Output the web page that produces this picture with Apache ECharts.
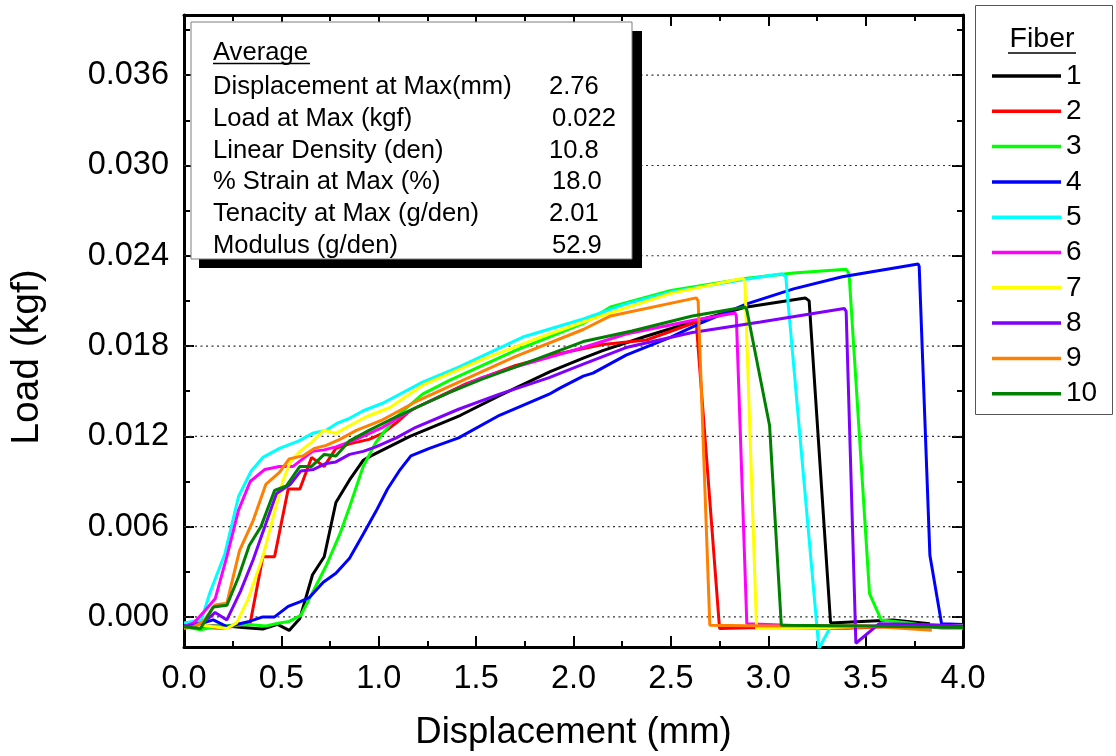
<!DOCTYPE html>
<html>
<head>
<meta charset="utf-8">
<title>Fiber load vs displacement</title>
<script src="https://cdn.jsdelivr.net/npm/echarts@6/dist/echarts.min.js"></script>
<style>
  html, body { margin: 0; padding: 0; background: #ffffff; }
  #chart { width: 1116px; height: 756px; }
</style>
</head>
<body>
<div id="chart"></div>
<script>
// ---- data: [displacement (mm), load (kgf)] for each fiber ----
const fiber1 = [[0,-0.0006],[0.10,-0.0006],[0.22,-0.0006],[0.30,-0.0007],[0.405,-0.0008],[0.48,-0.0005],[0.54,-0.0009],[0.595,-0.0001],[0.66,0.0028],[0.72,0.0040],[0.78,0.0076],[0.85,0.0091],[0.92,0.0104],[0.96,0.0107],[1.16,0.0120],[1.42,0.0134],[1.62,0.0147],[1.88,0.0163],[2.05,0.0172],[2.15,0.0177],[2.36,0.0186],[2.61,0.0196],[2.89,0.0206],[3.19,0.0212],[3.21,0.0210],[3.32,-0.0004],[3.64,-0.0002],[3.83,-0.00045]];
const fiber2 = [[0,-0.00065],[0.10,-0.0007],[0.20,-0.00075],[0.34,-0.0004],[0.405,0.0040],[0.465,0.0040],[0.535,0.0085],[0.595,0.0085],[0.655,0.0106],[0.72,0.0100],[0.78,0.0112],[0.85,0.0115],[0.95,0.0118],[1.02,0.0122],[1.09,0.0129],[1.16,0.0137],[1.19,0.0139],[1.45,0.0155],[1.70,0.0167],[1.93,0.0175],[2.15,0.0181],[2.375,0.0184],[2.61,0.0195],[2.63,0.0196],[2.75,-0.00077],[2.96,-0.0007],[3.40,-0.00075],[3.70,-0.0006],[4.0,-0.0006]];
const fiber3 = [[0,-0.00065],[0.085,-0.00085],[0.17,-0.0006],[0.33,-0.0005],[0.42,-0.0006],[0.49,-0.0004],[0.54,-0.0003],[0.60,0.0001],[0.73,0.0034],[0.80,0.0055],[0.85,0.0073],[0.92,0.0100],[0.985,0.0116],[1.09,0.0133],[1.225,0.0148],[1.36,0.0157],[1.53,0.0167],[1.70,0.0177],[1.875,0.0186],[2.05,0.0195],[2.19,0.0206],[2.50,0.0217],[2.89,0.0225],[3.13,0.02285],[3.40,0.0231],[3.415,0.0228],[3.52,0.00155],[3.58,-0.0002],[3.72,-0.0004],[3.89,-0.00075],[4.0,-0.00075]];
const fiber4 = [[0,-0.0004],[0.10,-0.0004],[0.15,-0.0002],[0.22,-0.00065],[0.335,-0.0003],[0.405,0.0],[0.465,0.0],[0.535,0.0007],[0.595,0.0010],[0.645,0.0013],[0.715,0.0023],[0.78,0.0029],[0.85,0.0039],[0.92,0.0055],[0.985,0.0070],[1.045,0.0085],[1.105,0.0097],[1.165,0.0107],[1.26,0.0112],[1.41,0.0119],[1.62,0.0134],[1.875,0.0148],[1.93,0.0152],[2.05,0.0160],[2.10,0.0162],[2.27,0.0174],[2.50,0.0186],[2.65,0.0195],[2.89,0.0208],[3.13,0.0218],[3.38,0.0226],[3.77,0.02345],[3.775,0.0233],[3.83,0.0041],[3.89,-0.00045],[4.0,-0.0005]];
const fiber5 = [[0,-0.0004],[0.09,-0.0002],[0.13,0.0015],[0.21,0.0042],[0.28,0.0080],[0.345,0.0097],[0.405,0.0106],[0.49,0.0112],[0.59,0.0117],[0.66,0.0122],[0.73,0.0124],[0.79,0.0129],[0.85,0.0132],[0.92,0.0137],[1.02,0.0142],[1.225,0.0156],[1.41,0.0166],[1.74,0.0186],[2.05,0.0198],[2.27,0.0208],[2.50,0.0216],[2.87,0.0224],[3.07,0.0228],[3.09,0.0226],[3.25,-0.00066],[3.26,-0.0021],[3.32,-0.00066],[3.60,-0.0006],[4.0,-0.0006]];
const fiber6 = [[0,-0.00065],[0.05,-0.0004],[0.10,0.0003],[0.16,0.0012],[0.22,0.0040],[0.28,0.0071],[0.34,0.0090],[0.415,0.0098],[0.49,0.0100],[0.56,0.0100],[0.61,0.0105],[0.66,0.0110],[0.72,0.0111],[0.78,0.0113],[0.885,0.0118],[1.02,0.0126],[1.19,0.0139],[1.36,0.0149],[1.53,0.0159],[1.70,0.0166],[2.05,0.0179],[2.27,0.0188],[2.61,0.0197],[2.83,0.0202],[2.836,0.0200],[2.89,-0.00045],[3.20,-0.0006],[3.60,-0.0006],[4.0,-0.0007]];
const fiber7 = [[0,-0.00065],[0.10,-0.00055],[0.15,-0.00065],[0.22,-0.00077],[0.27,-0.0004],[0.33,0.0012],[0.405,0.0040],[0.465,0.0070],[0.51,0.0091],[0.545,0.0103],[0.595,0.0110],[0.655,0.0116],[0.715,0.0124],[0.78,0.0122],[0.85,0.0127],[0.935,0.0133],[1.055,0.0139],[1.225,0.0154],[1.53,0.0171],[1.79,0.0184],[2.05,0.0196],[2.19,0.0202],[2.50,0.0215],[2.87,0.0225],[2.88,0.0223],[2.94,-0.00077],[3.30,-0.0007],[3.70,-0.0006],[4.0,-0.0006]];
const fiber8 = [[0,-0.00065],[0.10,-0.0004],[0.16,0.0003],[0.22,-0.0002],[0.29,0.0017],[0.355,0.0038],[0.415,0.0060],[0.475,0.0082],[0.545,0.0088],[0.60,0.0097],[0.665,0.0098],[0.73,0.0102],[0.78,0.0103],[0.85,0.0108],[0.92,0.0110],[0.985,0.0113],[1.09,0.0119],[1.19,0.0126],[1.41,0.0138],[1.62,0.0148],[1.875,0.0159],[2.05,0.0168],[2.27,0.0179],[2.61,0.0189],[2.96,0.0196],[3.39,0.0205],[3.40,0.0203],[3.45,-0.00175],[3.57,-0.00045],[3.80,-0.0005],[4.0,-0.0006]];
const fiber9 = [[0,-0.00077],[0.05,-0.00066],[0.10,-0.0003],[0.16,0.0008],[0.22,0.0009],[0.285,0.0044],[0.355,0.0064],[0.42,0.0088],[0.49,0.0096],[0.54,0.0105],[0.61,0.0107],[0.67,0.0112],[0.73,0.0114],[0.80,0.0118],[0.885,0.0124],[1.02,0.0131],[1.19,0.0143],[1.36,0.0153],[1.70,0.0173],[2.05,0.0191],[2.19,0.0200],[2.63,0.0212],[2.64,0.0210],[2.70,-0.00055],[3.0,-0.0006],[3.5,-0.0006],[3.84,-0.00088]];
const fiber10 = [[0,-0.00065],[0.085,-0.00077],[0.15,0.00066],[0.22,0.00077],[0.28,0.00265],[0.335,0.00475],[0.395,0.0060],[0.465,0.0084],[0.525,0.0087],[0.595,0.0100],[0.655,0.0100],[0.72,0.0108],[0.78,0.0107],[0.85,0.0117],[0.95,0.0124],[1.09,0.0133],[1.19,0.0139],[1.36,0.0149],[1.53,0.0158],[1.70,0.0166],[2.05,0.0183],[2.30,0.0190],[2.61,0.0200],[2.88,0.0206],[2.89,0.0204],[3.007,0.0127],[3.067,-0.00055],[3.50,-0.0006],[4.0,-0.0007]];

const fiberNames = ['1', '2', '3', '4', '5', '6', '7', '8', '9', '10'];
const fiberData = [fiber1, fiber2, fiber3, fiber4, fiber5, fiber6, fiber7, fiber8, fiber9, fiber10];

// axis ticks
const yMajorTicks = [0, 0.006, 0.012, 0.018, 0.024, 0.030, 0.036];
const yMinorTicks = [0.003, 0.009, 0.015, 0.021, 0.027, 0.033, 0.039];

// summary box
const summaryTitle = 'Average';
const summaryLabels = ['Displacement at Max(mm)', 'Load at Max (kgf)', 'Linear Density (den)', '% Strain at Max (%)', 'Tenacity at Max (g/den)', 'Modulus (g/den)'];
const summaryValues = ['2.76', '0.022', '10.8', '18.0', '2.01', '52.9'];

// ---- styling ----
const FONT = '"Liberation Sans", Arial, Helvetica, sans-serif';
const fiberColors = ['#000000', '#ff0000', '#00ff00', '#0000ff', '#00ffff', '#ff00ff', '#ffff00', '#8000ff', '#ff8000', '#008000'];
const valueX = [549, 552, 549, 552, 549, 552];
const X_MIN = 0, X_MAX = 4;

const chart = echarts.init(document.getElementById('chart'), null, { renderer: 'canvas' });

const yBase = {
  type: 'value', min: -0.002, max: 0.040, gridIndex: 0,
  splitLine: { show: false },
  axisLine: { onZero: false }
};
const frameLine = { show: true, onZero: false, lineStyle: { color: '#000', width: 3 } };

const yAxes = [
  Object.assign({}, yBase, {
    position: 'left',
    axisLine: frameLine,
    axisTick: { show: true, inside: true, length: 10, lineStyle: { color: '#000', width: 2 }, customValues: yMajorTicks },
    axisLabel: { show: true, customValues: yMajorTicks, formatter: v => v.toFixed(3), fontSize: 32.5, color: '#000', fontFamily: FONT, margin: 15 },
    name: 'Load (kgf)', nameLocation: 'middle', nameGap: 137,
    // right padding nudges the rotated title a little below the axis middle
    nameTextStyle: { fontSize: 39, color: '#000', fontFamily: FONT, padding: [0, 52, 0, 0] }
  }),
  Object.assign({}, yBase, {
    position: 'left',
    axisLine: { show: false, onZero: false },
    axisTick: { show: true, inside: true, length: 6, lineStyle: { color: '#000', width: 2 }, customValues: yMinorTicks },
    axisLabel: { show: false }
  }),
  Object.assign({}, yBase, {
    position: 'right',
    axisLine: frameLine,
    axisTick: { show: true, inside: true, length: 11, lineStyle: { color: '#000', width: 2 }, customValues: yMajorTicks },
    axisLabel: { show: false }
  }),
  Object.assign({}, yBase, {
    position: 'right',
    axisLine: { show: false, onZero: false },
    axisTick: { show: true, inside: true, length: 6, lineStyle: { color: '#000', width: 2 }, customValues: yMinorTicks },
    axisLabel: { show: false }
  })
];

const xBase = {
  type: 'value', min: X_MIN, max: X_MAX, interval: 0.5, gridIndex: 0,
  splitLine: { show: false },
  axisLine: frameLine,
  axisTick: { show: true, inside: true, length: 11, lineStyle: { color: '#000', width: 2 } },
  minorTick: { show: true, splitNumber: 2, length: 6, lineStyle: { color: '#000', width: 2 } }
};
const xAxes = [
  Object.assign({}, xBase, {
    position: 'bottom',
    axisLabel: { show: true, formatter: v => v.toFixed(1), fontSize: 32.5, color: '#000', fontFamily: FONT, margin: 16 },
    name: 'Displacement (mm)', nameLocation: 'middle', nameGap: 67,
    nameTextStyle: { fontSize: 36.5, color: '#000', fontFamily: FONT }
  }),
  Object.assign({}, xBase, {
    position: 'top',
    axisLabel: { show: false }
  })
];

// dotted horizontal grid lines at the major load ticks
const gridSeries = yMajorTicks.map(v => ({
  name: 'grid ' + v, type: 'line', data: [[X_MIN, v], [X_MAX, v]],
  xAxisIndex: 0, yAxisIndex: 0, z: 1, silent: true, animation: false,
  showSymbol: false, symbol: 'none',
  lineStyle: { color: '#333', width: 1.2, type: [2, 3.5] },
  emphasis: { disabled: true }, tooltip: { show: false }
}));

const fiberSeries = fiberData.map((d, i) => ({
  name: fiberNames[i], type: 'line', data: d,
  xAxisIndex: 0, yAxisIndex: 0,
  showSymbol: false, symbol: 'none', animation: false, z: 3 + i,
  lineStyle: { color: fiberColors[i], width: 3 },
  itemStyle: { color: fiberColors[i] },
  emphasis: { disabled: true }
}));

// summary box graphics
const SUM_FONT = '25.6px ' + FONT;
const summaryRows = [87, 118.5, 150.5, 182, 214, 245.5];
const summaryGraphics = [
  { type: 'rect', z: 100, shape: { x: 199, y: 31, width: 443, height: 237 }, style: { fill: '#000' } },
  { type: 'rect', z: 101, shape: { x: 191, y: 22, width: 441, height: 237 }, style: { fill: '#fff', stroke: '#7f7f7f', lineWidth: 1 } },
  { type: 'text', z: 102, style: { text: summaryTitle, x: 213, y: 53, fill: '#000', font: SUM_FONT, verticalAlign: 'middle' } },
  { type: 'line', z: 102, shape: { x1: 213, y1: 63.5, x2: 310, y2: 63.5 }, style: { stroke: '#000', lineWidth: 1.5 } }
];
summaryLabels.forEach((t, i) => {
  summaryGraphics.push({ type: 'text', z: 102, style: { text: t, x: 213, y: summaryRows[i], fill: '#000', font: SUM_FONT, verticalAlign: 'middle' } });
  summaryGraphics.push({ type: 'text', z: 102, style: { text: summaryValues[i], x: valueX[i], y: summaryRows[i], fill: '#000', font: SUM_FONT, verticalAlign: 'middle' } });
});

// legend frame and heading
const legendGraphics = [
  { type: 'rect', z: 0, shape: { x: 975.5, y: 5.5, width: 137, height: 409 }, style: { fill: 'none', stroke: '#555', lineWidth: 1 } },
  { type: 'text', z: 10, style: { text: 'Fiber', x: 1042, y: 39, fill: '#000', font: '28.5px ' + FONT, align: 'center', verticalAlign: 'middle' } },
  { type: 'line', z: 10, shape: { x1: 1008, y1: 53, x2: 1076, y2: 53 }, style: { stroke: '#000', lineWidth: 1.5 } }
];

chart.setOption({
  animation: false,
  backgroundColor: '#ffffff',
  grid: { left: 183, top: 15, width: 780, height: 632, containLabel: false },
  xAxis: xAxes,
  yAxis: yAxes,
  legend: {
    data: fiberNames, orient: 'vertical', left: 992, top: 62,
    icon: 'rect', itemWidth: 69, itemHeight: 3.5, itemGap: 7.3,
    selectedMode: false, padding: 0,
    textStyle: { fontSize: 28, color: '#000', fontFamily: FONT }
  },
  series: gridSeries.concat(fiberSeries),
  graphic: { elements: legendGraphics.concat(summaryGraphics) }
});
</script>
</body>
</html>
